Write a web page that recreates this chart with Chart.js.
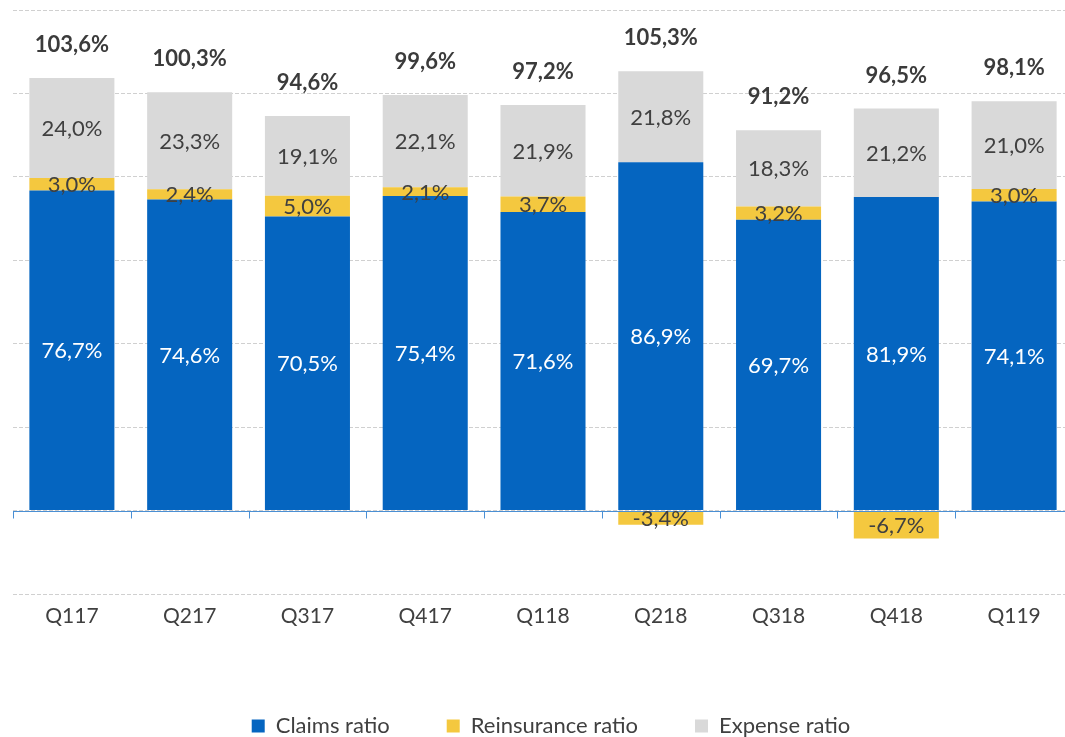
<!DOCTYPE html>
<html>
<head>
<meta charset="utf-8">
<script src="https://cdn.jsdelivr.net/npm/chart.js@4/dist/chart.umd.min.js"></script>
<style>
  html, body { margin: 0; padding: 0; overflow: hidden; background: #fff; }
  #wrap { position: absolute; left: 0; top: 0; width: 1089px; height: 747px; }
</style>
</head>
<body>
<div id="wrap"><canvas id="c" width="1089" height="747"></canvas></div>
<script>
const categories = ['Q117','Q217','Q317','Q417','Q118','Q218','Q318','Q418','Q119'];
const claimsRatio = [76.7, 74.6, 70.5, 75.4, 71.6, 86.9, 69.7, 81.9, 74.1];
const reinsuranceRatio = [3.0, 2.4, 5.0, 2.1, 3.7, -3.4, 3.2, -6.7, 3.0];
const expenseRatio = [24.0, 23.3, 19.1, 22.1, 21.9, 21.8, 18.3, 21.2, 21.0];
const combinedRatio = [103.6, 100.3, 94.6, 99.6, 97.2, 105.3, 91.2, 96.5, 98.1];

// the blue bar is drawn net of a negative reinsurance ratio, as in the original
const claimsBar = claimsRatio.map((c, i) => c + Math.min(reinsuranceRatio[i], 0));

const BLUE = '#0565C0', YELLOW = '#F4C83F', GREY = '#D9D9D9';
const FONT = 'Lato, "Noto Sans", sans-serif';
const fmt = v => v.toFixed(1).replace('.', ',') + '%';

const labelsPlugin = {
  id: 'labelsPlugin',
  afterDatasetsDraw(chart) {
    const ctx = chart.ctx;
    const y = chart.scales.y;
    const area = chart.chartArea;
    // zero axis line with ticks
    const y0 = Math.round(y.getPixelForValue(0)) + 0.5;
    ctx.save();
    ctx.strokeStyle = '#4A8FD4';
    ctx.lineWidth = 1;
    ctx.beginPath();
    ctx.moveTo(area.left, y0);
    ctx.lineTo(area.right, y0);
    const n = categories.length;
    const cw = (area.right - area.left) / n;
    for (let k = 0; k <= n; k++) {
      const xx = Math.round(area.left + k * cw) + 0.5;
      ctx.moveTo(xx, y0);
      ctx.lineTo(xx, y0 + 7);
    }
    ctx.stroke();
    ctx.restore();

    ctx.save();
    ctx.textAlign = 'center';
    ctx.textBaseline = 'middle';
    const sources = [claimsRatio, reinsuranceRatio, expenseRatio];
    const colors = ['#ffffff', '#404040', '#404040'];
    chart.data.datasets.forEach((ds, di) => {
      const meta = chart.getDatasetMeta(di);
      ctx.font = '22px ' + FONT;
      ctx.fillStyle = colors[di];
      meta.data.forEach((el, i) => {
        const cy = (el.y + el.base) / 2;
        ctx.fillText(fmt(sources[di][i]), el.x, cy + 1);
      });
    });
    // totals
    const topMeta = chart.getDatasetMeta(2);
    ctx.font = 'bold 22px ' + FONT;
    ctx.fillStyle = '#3b3b3b';
    topMeta.data.forEach((el, i) => {
      const top = Math.min(el.y, el.base);
      ctx.fillText(fmt(combinedRatio[i]), el.x, top - 33);
    });
    ctx.restore();
  }
};

new Chart(document.getElementById('c'), {
  type: 'bar',
  data: {
    labels: categories,
    datasets: [
      { label: 'Claims ratio', data: claimsBar, backgroundColor: BLUE },
      { label: 'Reinsurance ratio', data: reinsuranceRatio, backgroundColor: YELLOW },
      { label: 'Expense ratio', data: expenseRatio, backgroundColor: GREY }
    ]
  },
  options: {
    responsive: false,
    animation: false,
    devicePixelRatio: 1,
    layout: { padding: { left: 13, top: 10, right: 0, bottom: 0 } },
    datasets: { bar: { categoryPercentage: 1, barPercentage: 0.722, borderWidth: 0 } },
    scales: {
      x: {
        stacked: true,
        grid: { display: false, drawTicks: false },
        border: { display: false },
        ticks: { color: '#404040', font: { family: FONT, size: 21 }, padding: 10 },
        afterFit(s) { s.height = 64; }
      },
      y: {
        stacked: true,
        min: -20, max: 120,
        ticks: { stepSize: 20, display: false },
        grid: { color: '#D0D0D0', lineWidth: 1, drawTicks: false },
        border: { display: false, dash: [4, 2] },
        afterFit(s) { s.width = 0; }
      },
      yR: {
        position: 'right',
        min: 0, max: 1,
        ticks: { display: false },
        grid: { display: false, drawTicks: false },
        border: { display: false },
        afterFit(s) { s.width = 16; }
      }
    },
    plugins: {
      legend: {
        position: 'bottom',
        labels: {
          color: '#404040',
          font: { family: FONT, size: 22 },
          boxWidth: 13, boxHeight: 13,
          padding: 57
        }
      },
      tooltip: { enabled: false }
    }
  },
  plugins: [labelsPlugin]
});
</script>
</body>
</html>
